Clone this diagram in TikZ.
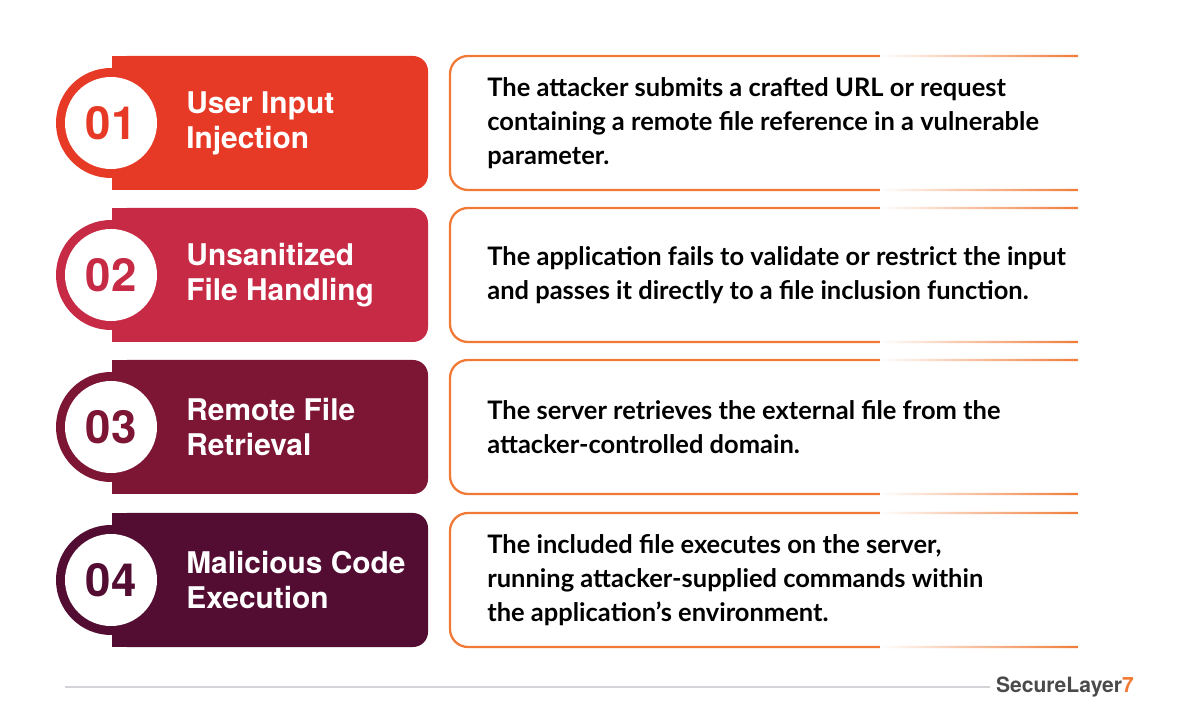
\documentclass[tikz,border=0pt]{standalone}
\usepackage{fontspec}
\setmainfont{Lato}
\newfontfamily\headfont{TeX Gyre Heros}
\usetikzlibrary{positioning,fadings}

\definecolor{stepA}{HTML}{E63A27}
\definecolor{stepB}{HTML}{C72A45}
\definecolor{stepC}{HTML}{7D1535}
\definecolor{stepD}{HTML}{530D33}
\definecolor{edgeOr}{HTML}{F07A35}
\definecolor{ruleGr}{HTML}{D4D4D8}
\definecolor{logoGr}{HTML}{4A4A4A}

\tikzset{
  numtext/.style={font=\headfont\bfseries\fontsize{26}{26}\selectfont},
  titletext/.style={font=\headfont\bfseries\fontsize{17}{20}\selectfont, text=white, anchor=west, align=left, inner sep=0pt},
  desctext/.style={font=\bfseries\fontsize{14.5}{19.5}\selectfont, text=black, anchor=west, align=left, inner sep=0pt}
}

\begin{document}
\begin{tikzpicture}[x=0.02cm,y=-0.02cm]
  \useasboundingbox (0,0) rectangle (1200,722);

  %% Steps: top edge / colour / number / title / description
  \foreach \t/\col/\n/\ttl/\dsc in {
      56/stepA/01/{User Input\\Injection}/{The attacker submits a crafted URL or request\\containing a remote file reference in a vulnerable\\parameter.},
      208/stepB/02/{Unsanitized\\File Handling}/{The application fails to validate or restrict the input\\and passes it directly to a file inclusion function.},
      360/stepC/03/{Remote File\\Retrieval}/{The server retrieves the external file from the\\attacker-controlled domain.},
      513/stepD/04/{Malicious Code\\Execution}/{The included file executes on the server,\\running attacker-supplied commands within\\the application's environment.}}
  {
    \pgfmathsetmacro\m{\t+67}
    \pgfmathsetmacro\b{\t+134}
    % coloured tab with ring
    \fill[\col, rounded corners=0.3cm] (112,\t) rectangle (428,\b);
    \fill[\col] (112,\t) rectangle (200,\b);
    \fill[\col] (111,\m) circle[radius=55];
    \fill[white] (111,\m) circle[radius=46];
    \node[numtext, text=\col] (num\n) at (111,\m) {\n};
    \node[titletext] (title\n) at (186,\m) {\ttl};
    % outlined description box, fading to the right
    \draw[edgeOr, line width=1.3pt, rounded corners=0.36cm] (1080,\t) -- (450,\t) -- (450,\b) -- (1080,\b);
    \fill[white, path fading=east] (880,\t-3) rectangle (1082,\b+3);
    \fill[white] (1078,\t-3) rectangle (1090,\b+3);
    \node[desctext] (desc\n) at (487,\m) {\dsc};
  }

  %% footer rule and logo
  \node[font=\headfont\bfseries\fontsize{12}{12}\selectfont, text=logoGr, anchor=east]
    (logo) at (1140,687) {SecureLayer\textcolor{edgeOr}{7}};
  \coordinate (ruleL) at (65,687);
  \draw[ruleGr, line width=1.6pt] (ruleL) -- (logo.west);
\end{tikzpicture}
\end{document}
